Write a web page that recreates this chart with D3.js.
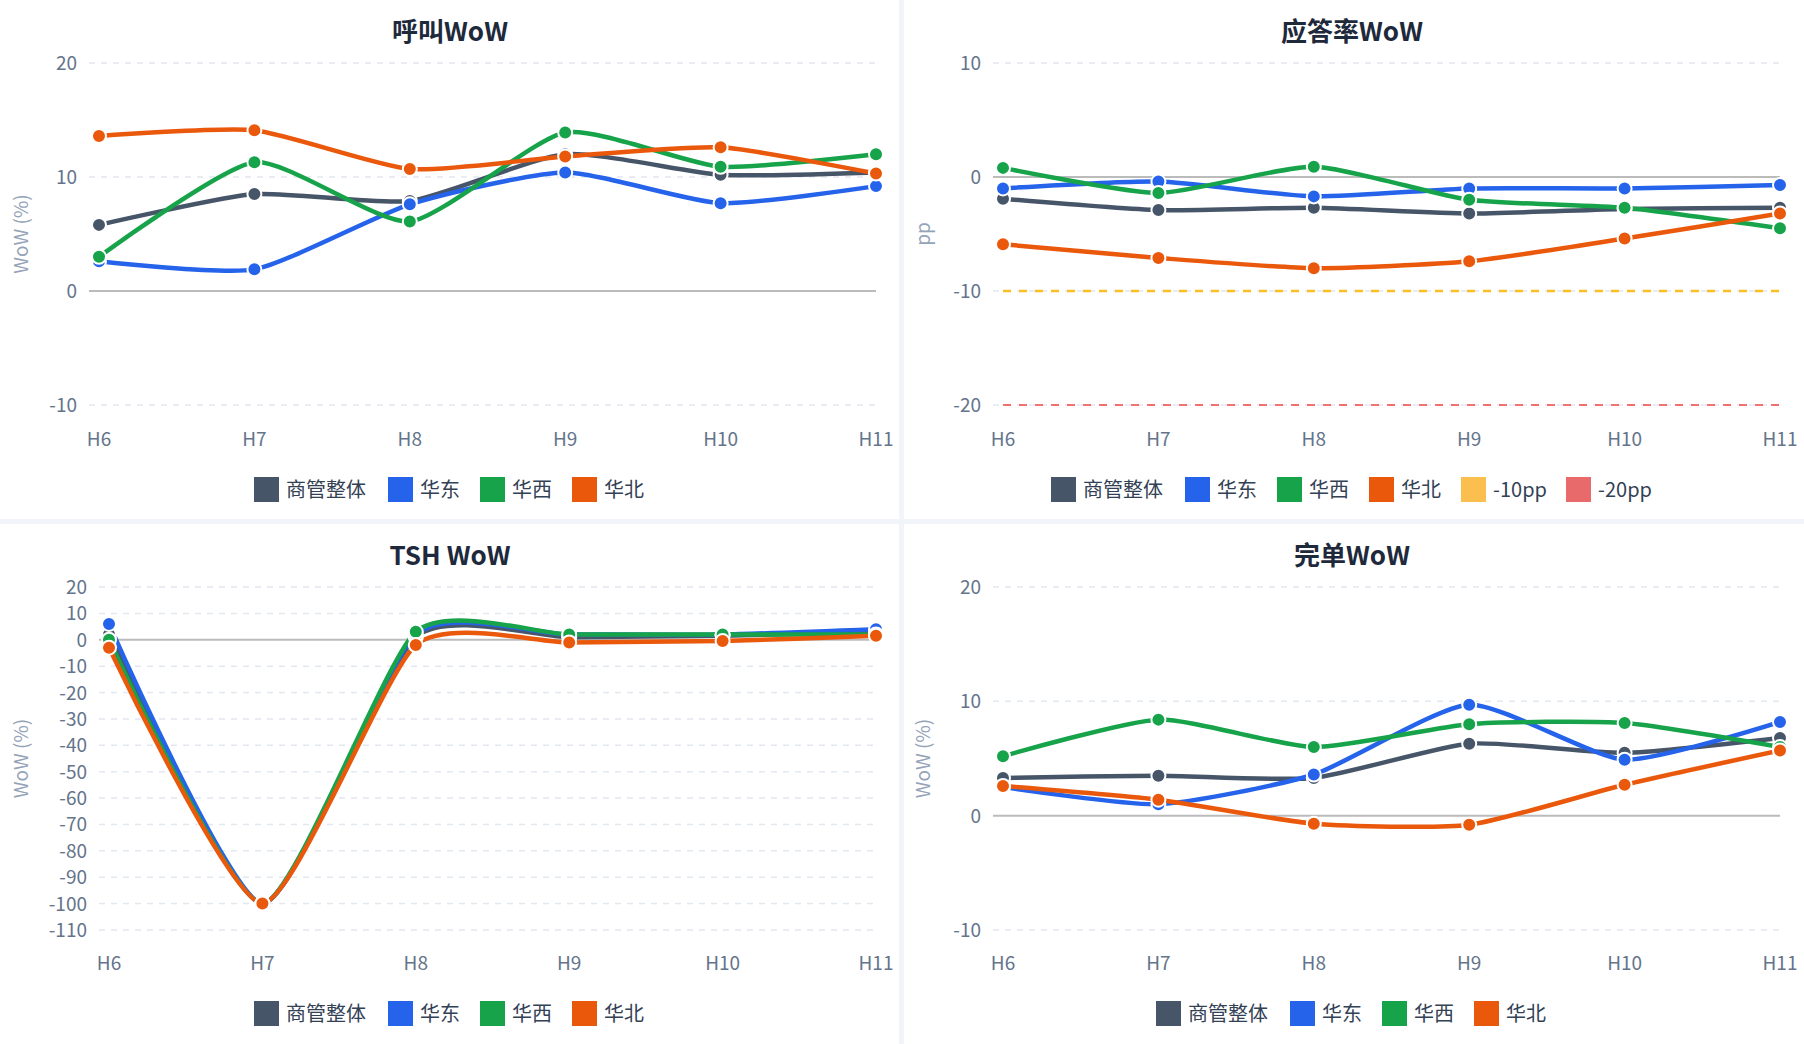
<!DOCTYPE html>
<html>
<head>
  <meta charset="utf-8">
  <script src="https://d3js.org/d3.v7.min.js"></script>
  <style>
    body { margin: 0; background: #fff; font-family: "Noto Sans CJK SC", "Liberation Sans", sans-serif; }
  </style>
</head>
<body>
  <svg width="1804" height="1044"></svg>
  <script>
    var hours = ["H6", "H7", "H8", "H9", "H10", "H11"];
    var seriesNames = ["商管整体", "华东", "华西", "华北"];
    var colors = ["#475569", "#2563eb", "#16a34a", "#ea580c"];

    var callAll = [5.8, 8.5, 7.9, 12.0, 10.2, 10.4];
    var callEast = [2.6, 1.9, 7.6, 10.4, 7.7, 9.2];
    var callWest = [3.0, 11.3, 6.1, 13.9, 10.9, 12.0];
    var callNorth = [13.6, 14.1, 10.7, 11.8, 12.6, 10.3];

    var ansAll = [-1.9, -2.9, -2.7, -3.2, -2.8, -2.7];
    var ansEast = [-1.0, -0.4, -1.7, -1.0, -1.0, -0.7];
    var ansWest = [0.8, -1.4, 0.9, -2.0, -2.7, -4.5];
    var ansNorth = [-5.9, -7.1, -8.0, -7.4, -5.4, -3.2];

    var tshAll = [2, -100, 1, 1, 1.5, 3];
    var tshEast = [6, -100, 2, 2, 2, 4];
    var tshWest = [0, -100, 3, 2, 2, 2];
    var tshNorth = [-3, -100, -2, -1, -0.5, 1.5];

    var doneAll = [3.3, 3.5, 3.3, 6.3, 5.5, 6.8];
    var doneEast = [2.5, 1.0, 3.6, 9.7, 4.9, 8.2];
    var doneWest = [5.2, 8.4, 6.0, 8.0, 8.1, 6.0];
    var doneNorth = [2.6, 1.4, -0.7, -0.8, 2.7, 5.7];

    var svg = d3.select("svg");

    // panel dividers
    svg.append("rect").attr("x", 899).attr("y", 0).attr("width", 5).attr("height", 1044).attr("fill", "#f1f5f9");
    svg.append("rect").attr("x", 0).attr("y", 519).attr("width", 1804).attr("height", 5).attr("fill", "#f1f5f9");

    function drawChart(cfg) {
      var g = svg.append("g").attr("transform", "translate(" + cfg.ox + "," + cfg.oy + ")");
      var x = d3.scalePoint().domain(hours).range([cfg.left, cfg.right]);
      var y = d3.scaleLinear().domain(cfg.domain).range([cfg.bottom, cfg.top]);

      g.append("text").attr("x", 450).attr("y", 41).attr("text-anchor", "middle")
        .attr("font-size", 26).attr("font-weight", "bold").attr("fill", "#1e293b").text(cfg.title);

      cfg.ticks.forEach(function(t) {
        g.append("line").attr("x1", cfg.left - 10).attr("x2", cfg.right).attr("y1", y(t)).attr("y2", y(t))
          .attr("stroke", t === 0 ? "#bbbbbb" : "#e2e8f0").attr("stroke-width", t === 0 ? 2 : 1.5)
          .attr("stroke-dasharray", t === 0 ? null : "6,6");
        g.append("text").attr("x", cfg.left - 22).attr("y", y(t) + 7).attr("text-anchor", "end")
          .attr("font-size", 19).attr("fill", "#64748b").text(t);
      });

      hours.forEach(function(h) {
        g.append("text").attr("x", x(h)).attr("y", 446).attr("text-anchor", "middle")
          .attr("font-size", 19).attr("fill", "#64748b").text(h);
      });

      g.append("text").attr("transform", "translate(28," + ((cfg.top + cfg.bottom) / 2) + ") rotate(-90)")
        .attr("text-anchor", "middle").attr("font-size", 19).attr("fill", "#94a3b8").text(cfg.yTitle);

      (cfg.refs || []).forEach(function(r) {
        g.append("line").attr("x1", cfg.left).attr("x2", cfg.right).attr("y1", y(r.v)).attr("y2", y(r.v))
          .attr("stroke", r.color).attr("stroke-width", r.w).attr("stroke-dasharray", r.dash);
      });

      var line = d3.line().x(function(d, i) { return x(hours[i]); }).y(function(d) { return y(d); })
        .curve(d3.curveCardinal.tension(0.4));

      cfg.series.forEach(function(s, k) {
        g.append("path").datum(s).attr("d", line).attr("fill", "none")
          .attr("stroke", colors[k]).attr("stroke-width", 4.5);
      });
      cfg.series.forEach(function(s, k) {
        g.selectAll(null).data(s).enter().append("circle")
          .attr("cx", function(d, i) { return x(hours[i]); }).attr("cy", function(d) { return y(d); })
          .attr("r", 7).attr("fill", colors[k]).attr("stroke", "#fff").attr("stroke-width", 2);
      });

      var items = seriesNames.map(function(n, k) { return { name: n, color: colors[k] }; })
        .concat(cfg.refs ? cfg.refs.map(function(r) { return { name: r.label, color: r.box }; }) : []);
      var widths = items.map(function(it) { return 32 + it.name.length * (/[a-z0-9]/.test(it.name) ? 11 : 21) + 18; });
      var total = d3.sum(widths) - 18;
      var lx = 450 - total / 2;
      items.forEach(function(it, i) {
        g.append("rect").attr("x", lx).attr("y", 477).attr("width", 25).attr("height", 25).attr("fill", it.color);
        g.append("text").attr("x", lx + 32).attr("y", 497).attr("font-size", 20).attr("fill", "#334155").text(it.name);
        lx += widths[i];
      });
    }

    drawChart({ ox: 0, oy: 0, title: "呼叫WoW", yTitle: "WoW (%)", domain: [-10, 20], ticks: [-10, 0, 10, 20],
      left: 99, right: 876, top: 63, bottom: 405, series: [callAll, callEast, callWest, callNorth] });

    drawChart({ ox: 902, oy: 0, title: "应答率WoW", yTitle: "pp", domain: [-20, 10], ticks: [-20, -10, 0, 10],
      left: 101, right: 878, top: 63, bottom: 405, series: [ansAll, ansEast, ansWest, ansNorth],
      refs: [{ v: -10, color: "#fbbf24", w: 2.5, dash: "8,8", label: "-10pp", box: "#fbbf4f" },
             { v: -20, color: "#ef4444", w: 1.5, dash: "8,8", label: "-20pp", box: "#e86a6a" }] });

    drawChart({ ox: 0, oy: 524, title: "TSH WoW", yTitle: "WoW (%)", domain: [-110, 20],
      ticks: [-110, -100, -90, -80, -70, -60, -50, -40, -30, -20, -10, 0, 10, 20],
      left: 109, right: 876, top: 63, bottom: 406, series: [tshAll, tshEast, tshWest, tshNorth] });

    drawChart({ ox: 902, oy: 524, title: "完单WoW", yTitle: "WoW (%)", domain: [-10, 20], ticks: [-10, 0, 10, 20],
      left: 101, right: 878, top: 63, bottom: 406, series: [doneAll, doneEast, doneWest, doneNorth] });
  </script>
</body>
</html>
